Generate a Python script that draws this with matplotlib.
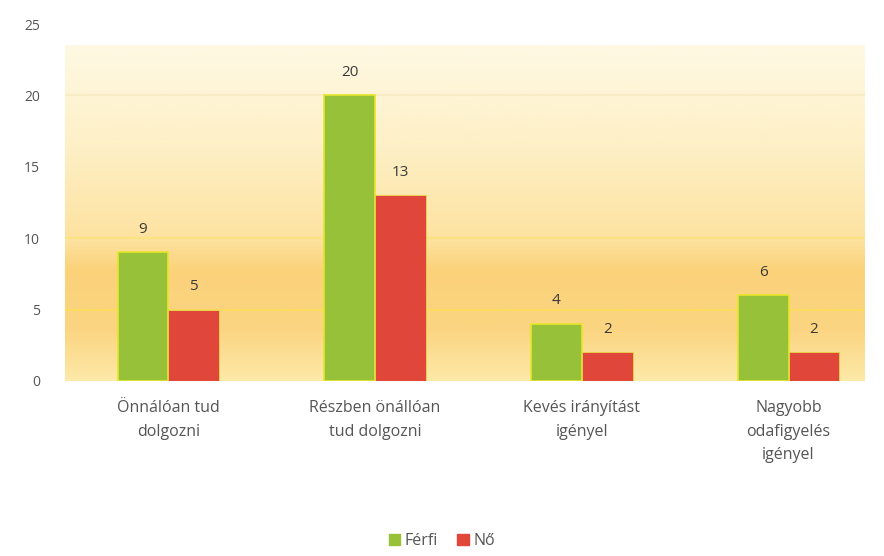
import numpy as np
import matplotlib
matplotlib.use("Agg")
import matplotlib.pyplot as plt
from matplotlib.colors import LinearSegmentedColormap
from matplotlib.patches import Patch

categories = ["Önnálóan tud\ndolgozni", "Részben önállóan\ntud dolgozni",
              "Kevés irányítást\nigényel", "Nagyobb\nodafigyelés\nigényel"]
ferfi = [9, 20, 4, 6]
no = [5, 13, 2, 2]
yticks = [0, 5, 10, 15, 20, 25]

plt.rcParams['font.family'] = ['Open Sans', 'DejaVu Sans']

fig = plt.figure(figsize=(8.84, 5.56), dpi=100)
ax = fig.add_axes([65/884, 1-381/556, 800/884, (381-24)/556])

green = "#98c13a"
red = "#e0463a"
x = np.arange(len(categories))
w = 0.246

# background gradient
cmap = LinearSegmentedColormap.from_list("bg", [
    (0.0, "#fde9a8"), (0.15, "#fbd582"), (0.33, "#fbd27a"), (0.42, "#fde2a0"),
    (0.7, "#fef0c6"), (1.0, "#fef9e4")])
grad = np.linspace(0, 1, 256).reshape(-1, 1)
ax.imshow(grad, aspect="auto", cmap=cmap, origin="lower",
          extent=[-0.5, 3.37, 0, 23.5], zorder=0)

for yv, c, a in [(5, "#fbe34a", 0.6), (10, "#fbe56a", 0.6), (20, "#f6ecc0", 0.8)]:
    ax.axhline(yv, color=c, lw=1.5, alpha=a, zorder=1)

b1 = ax.bar(x - w/2, ferfi, w, color=green, edgecolor="#e6e62a", linewidth=1.2, zorder=2)
b2 = ax.bar(x + w/2, no, w, color=red, edgecolor="#e8d84a", linewidth=0.6, zorder=2)

for bars, vals in [(b1, ferfi), (b2, no)]:
    for b, v in zip(bars, vals):
        ax.text(b.get_x() + b.get_width()/2, v + 1.1, str(v), ha="center", va="bottom",
                fontsize=11, color="#3a3a3a")

ax.set_xlim(-0.5, 3.37)
ax.set_ylim(0, 25)
ax.set_yticks(yticks)
ax.set_xticks(x)
ax.set_xticklabels(categories, fontsize=11.5, color="#555555", linespacing=1.6)
ax.tick_params(axis="y", length=0, pad=18, labelsize=10, labelcolor="#555555")
ax.tick_params(axis="x", length=0, pad=14)
for s in ax.spines.values():
    s.set_visible(False)

handles = [Patch(color=green, label="Férfi"), Patch(color=red, label="Nő")]
fig.legend(handles=handles, loc="center", bbox_to_anchor=(442/884, 1-541/556), ncol=2,
           frameon=False, fontsize=11.5, handlelength=0.7, handleheight=0.7,
           handletextpad=0.3, columnspacing=1.2, labelcolor="#555555")

fig.savefig("out.png", dpi=100)
